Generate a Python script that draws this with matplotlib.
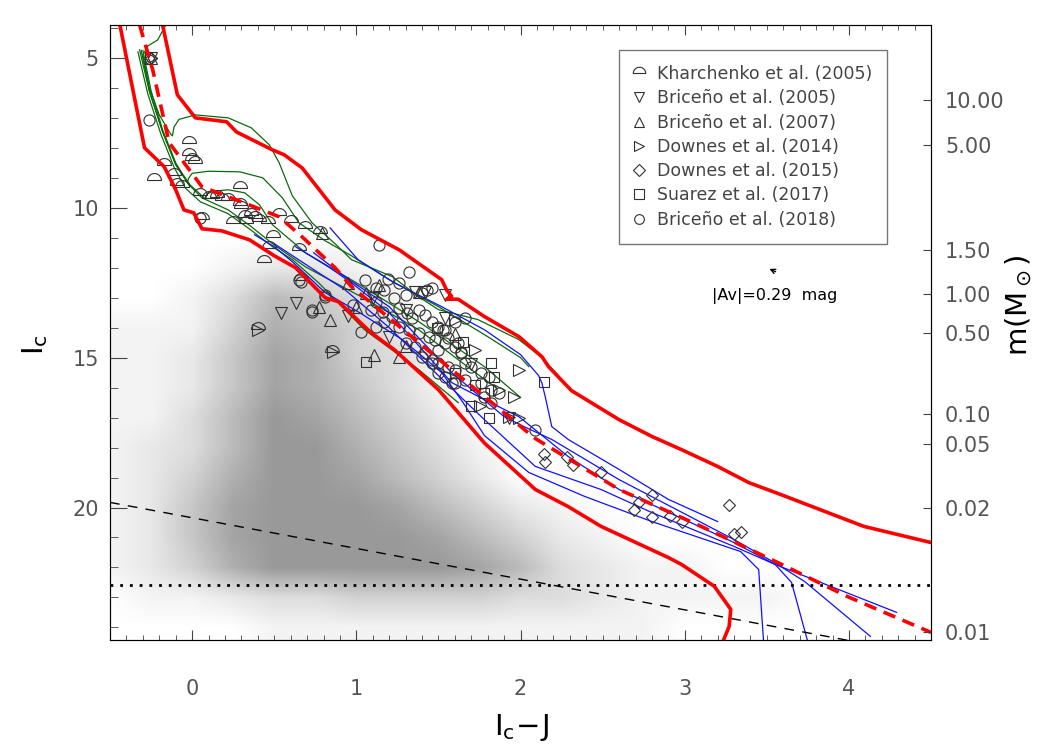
import numpy as np
import matplotlib
matplotlib.use("Agg")
import matplotlib.pyplot as plt
from matplotlib.lines import Line2D
from matplotlib.colors import LinearSegmentedColormap
from matplotlib.ticker import MultipleLocator

# ---- field stars: density (x step 0.25 from -0.5, one row per Ic mag from 4)
cloud_x0, cloud_dx = -0.5, 0.25
cloud_ic0, cloud_dic = 4, 1
cloud = [
    [0] * 21,  # 4
    [0] * 21,  # 5
    [0] * 21,  # 6
    [0] * 21,  # 7
    [0] * 21,  # 8
    [0] * 21,  # 9
    [0] * 21,  # 10
    [0] * 21,  # 11
    [0, 0, 0, 1, 2, 2, 1, 0, 0, 0, 0, 0, 0, 0, 0, 0, 0, 0, 0, 0, 0],  # 12
    [0, 0, 1, 3, 6, 5, 3, 1, 0, 0, 0, 0, 0, 0, 0, 0, 0, 0, 0, 0, 0],  # 13
    [1, 1, 1, 4, 7, 6, 4, 2, 0, 0, 0, 0, 0, 0, 0, 0, 0, 0, 0, 0, 0],  # 14
    [1, 1, 2, 5, 8, 7, 4, 3, 1, 0, 0, 0, 0, 0, 0, 0, 0, 0, 0, 0, 0],  # 15
    [1, 1, 2, 5, 8, 7, 5, 3, 1, 0, 0, 0, 0, 0, 0, 0, 0, 0, 0, 0, 0],  # 16
    [1, 1, 3, 6, 9, 8, 6, 4, 2, 0, 0, 0, 0, 0, 0, 0, 0, 0, 0, 0, 0],  # 17
    [1, 2, 3, 6, 9, 9, 7, 5, 3, 1, 0, 0, 0, 0, 0, 0, 0, 0, 0, 0, 0],  # 18
    [1, 2, 4, 7, 9, 9, 8, 6, 4, 2, 0, 0, 0, 0, 0, 0, 0, 0, 0, 0, 0],  # 19
    [1, 2, 5, 8, 9, 9, 9, 8, 6, 4, 2, 1, 0, 0, 0, 0, 0, 0, 0, 0, 0],  # 20
    [1, 2, 5, 8, 9, 9, 9, 9, 8, 6, 4, 2, 1, 0, 0, 0, 0, 0, 0, 0, 0],  # 21
    [1, 2, 4, 7, 9, 9, 9, 9, 9, 8, 6, 3, 2, 1, 1, 0, 0, 0, 0, 0, 0],  # 22
    [0, 1, 1, 2, 3, 3, 4, 4, 4, 4, 3, 3, 2, 1, 1, 1, 1, 0, 0, 0, 0],  # 23
    [0, 0, 0, 0, 1, 1, 1, 1, 1, 1, 1, 1, 1, 1, 0, 0, 0, 0, 0, 0, 0],  # 24
]

# ---- red envelope and median sequence
red_up_x = [-0.18, -0.09, 0.02, 0.21, 0.27, 0.49, 0.56, 0.67, 0.87, 1.03, 1.26, 1.52, 1.55,
            1.58, 1.55, 1.62, 1.78, 1.99, 2.13, 2.17, 2.31, 2.60, 2.80, 2.98, 3.20, 3.39,
            3.60, 3.79, 4.09, 4.50]
red_up_ic = [3.9, 6.23, 7.0, 7.13, 7.47, 8.07, 8.23, 8.67, 10.07, 10.73, 11.4, 12.4, 12.75,
             12.95, 13.05, 13.05, 13.63, 14.3, 14.97, 15.3, 16.1, 17.07, 17.63, 18.07, 18.63,
             19.17, 19.6, 20.0, 20.63, 21.17]
red_lo_x = [-0.44, -0.29, -0.17, -0.10, -0.05, 0.01, 0.06, 0.18, 0.35, 0.50, 0.63, 0.81,
            0.89, 1.09, 1.23, 1.50, 1.78, 2.09, 2.29, 2.49, 2.90, 2.98, 3.18, 3.28, 3.27, 3.23]
red_lo_ic = [3.9, 8.0, 8.63, 9.4, 10.07, 10.17, 10.7, 10.77, 11.07, 11.6, 12.0, 13.0, 13.13,
             14.17, 14.73, 16.07, 17.85, 19.4, 19.97, 20.63, 21.67, 21.9, 22.63, 23.4, 23.97, 24.5]
red_mid_x = [-0.32, -0.24, -0.14, 0.06, 0.30, 0.53, 0.67, 0.87, 0.97, 1.38, 1.78, 2.09,
             2.60, 3.10, 3.59, 3.99, 4.50]
red_mid_ic = [3.9, 5.4, 7.83, 9.3, 9.8, 10.3, 10.97, 12.0, 12.63, 14.5, 16.3, 17.7, 19.4,
              20.63, 21.9, 22.97, 24.17]

# ---- green isochrones
green_x = [
    [-0.16, -0.21, -0.27, -0.30, -0.26, -0.20, -0.13, -0.12, -0.11, -0.08, 0.02, 0.22, 0.36,
     0.47, 0.53, 0.61, 0.73, 0.89, 0.97, 1.22, 1.38, 1.50, 1.74, 1.99, 2.13, 2.23],
    [-0.30, -0.25, -0.18, -0.10, -0.03, -0.02, 0.00, 0.10, 0.29, 0.43, 0.55, 0.65, 0.81,
     0.97, 1.20, 1.50, 1.80, 2.00, 2.05],
    [-0.31, -0.26, -0.18, -0.10, -0.01, 0.08, 0.09, 0.12, 0.22, 0.32, 0.41, 0.49, 0.69,
     1.03, 1.38, 1.78, 2.00],
    [-0.32, -0.26, -0.18, -0.10, -0.02, 0.06, 0.22, 0.36, 0.49, 0.69, 1.03, 1.38, 1.70, 1.85],
    [-0.33, -0.27, -0.19, -0.11, -0.04, 0.05, 0.22, 0.36, 0.49, 0.61, 0.77, 1.05, 1.38, 1.62],
]
green_ic = [
    [3.9, 4.4, 4.6, 4.9, 6.0, 6.9, 7.55, 7.6, 7.3, 7.05, 6.9, 7.0, 7.33, 7.9, 8.5, 9.6, 10.5,
     11.3, 11.73, 12.3, 12.97, 13.4, 13.73, 14.4, 15.0, 15.6],
    [4.75, 6.1, 7.4, 8.5, 9.15, 9.0, 8.85, 8.78, 8.8, 9.0, 9.67, 10.5, 11.1, 11.6, 12.4,
     13.3, 14.3, 15.0, 15.3],
    [4.75, 6.1, 7.45, 8.55, 9.25, 9.7, 9.55, 9.45, 9.4, 9.5, 9.9, 10.57, 11.5, 12.6, 13.8,
     15.3, 16.33],
    [4.73, 6.13, 7.47, 8.57, 9.23, 9.67, 10.07, 10.63, 11.2, 11.97, 12.97, 14.07, 15.4, 16.0],
    [4.8, 6.2, 7.55, 8.65, 9.35, 9.8, 10.2, 10.75, 11.3, 11.73, 12.5, 14.07, 15.4, 16.5],
]

# ---- blue tracks
blue_x = [
    [0.84, 1.01, 1.23, 1.52, 1.78, 2.00, 2.11, 2.13, 2.15, 2.19, 2.29, 2.60, 2.90, 3.20],
    [0.74, 0.93, 1.20, 1.58, 1.90, 2.02, 2.19, 2.60, 3.30, 3.55, 3.73, 4.13],
    [0.63, 0.83, 0.97, 1.20, 1.58, 1.78, 1.99, 2.29, 2.60, 3.30, 3.55, 4.29],
    [0.50, 0.77, 0.93, 1.20, 1.50, 1.78, 2.09, 2.49, 2.80, 3.30, 3.55, 3.65, 3.75],
    [0.38, 0.50, 0.61, 0.81, 1.02, 1.28, 1.52, 1.65, 1.78, 2.05, 2.39, 2.80, 3.34, 3.45, 3.48],
]
blue_ic = [
    [10.67, 11.73, 12.5, 13.3, 14.07, 14.9, 15.6, 15.85, 16.3, 17.3, 17.73, 18.73, 19.73, 20.47],
    [11.5, 12.3, 13.3, 15.5, 16.97, 17.3, 17.73, 19.07, 21.07, 21.85, 22.47, 24.3],
    [11.3, 11.97, 12.5, 13.5, 15.83, 16.4, 16.97, 18.3, 19.4, 21.17, 21.9, 23.5],
    [11.2, 12.17, 12.73, 14.0, 15.6, 17.07, 18.63, 19.4, 20.17, 21.3, 21.9, 22.5, 24.5],
    [10.9, 11.3, 11.8, 12.83, 13.5, 14.4, 15.5, 16.5, 17.6, 18.83, 19.63, 20.47, 21.47, 22.07, 24.5],
]

# ---- limits lines
dash_x = [-0.5, 4.03]
dash_ic = [19.83, 24.47]
ic_limit = 22.6

# ---- members from the literature
kh05_x = [-0.02, -0.02, 0.00, 0.02, -0.17, -0.11, -0.23, -0.06, -0.09, 0.29, 0.12, 0.18, 0.05,
          0.22, 0.30, 0.32, 0.38, 0.53, 0.60, 0.06, 0.29, 0.36, 0.33, 0.46, 0.69, 0.78, 0.49,
          0.47, 0.44, 0.65, 0.66, 0.25, 0.41, 0.10, 0.15, 0.40, 0.85]
kh05_ic = [7.83, 8.23, 8.40, 8.50, 8.57, 8.90, 9.07, 9.30, 9.23, 9.33, 9.67, 9.73, 9.57,
           9.75, 10.0, 10.3, 10.33, 10.23, 10.47, 10.37, 9.90, 10.23, 10.5, 10.5, 10.67, 10.83,
           10.97, 11.33, 11.8, 11.4, 12.4, 10.5, 10.45, 9.68, 9.65, 14.05, 14.8]
br05_x = [-0.25, 0.63, 0.54, 1.36, 1.42, 1.30, 1.54, 1.93, 1.54, 1.20, 0.95, 1.70, 1.10]
br05_ic = [5.0, 13.17, 13.5, 12.8, 12.8, 13.4, 13.67, 17.0, 12.9, 14.3, 13.6, 15.2, 13.0]
br07_x = [-0.25, 0.77, 0.84, 1.11, 1.26, 0.95, 1.14, 1.06, 1.38, 0.79, 1.00, 1.30, 1.60]
br07_ic = [5.0, 13.3, 13.73, 14.9, 14.97, 12.5, 12.57, 12.83, 12.8, 10.83, 13.3, 14.6, 14.2]
do14_x = [-0.25, 1.87, 1.96, 1.93, 1.99, 1.72, 1.99, 1.60, 0.86, 0.40, 1.75]
do14_ic = [5.0, 16.07, 16.3, 16.97, 17.0, 14.73, 15.4, 13.73, 14.8, 14.07, 16.6]
do15_x = [-0.25, 2.14, 2.15, 2.28, 2.32, 2.49, 2.69, 2.80, 2.80, 2.91, 2.98, 3.27, 3.30, 3.34, 2.72]
do15_ic = [5.0, 18.23, 18.47, 18.33, 18.57, 18.8, 20.07, 19.57, 20.33, 20.3, 20.47, 19.9,
           20.9, 20.83, 19.83]
su17_x = [1.06, 1.65, 1.82, 2.14, 1.49, 1.84, 1.81, 1.78, 1.72, 1.60, 1.70]
su17_ic = [15.13, 14.47, 15.17, 15.8, 14.0, 15.63, 17.0, 16.17, 15.9, 15.5, 16.6]
br18_x = [1.32, 1.19, 1.05, 1.26, 1.12, 1.17, 1.43, 1.40, 1.30, 1.23, 1.12, 0.98, 0.73, 0.81,
          0.66, 1.26, 1.31, 1.38, 1.42, 1.34, 1.46, 1.50, 1.54, 1.22, 1.16, 1.09, 1.03, 1.12,
          1.17, 1.26, 1.32, 1.38, 1.44, 1.48, 1.54, 1.60, 1.64, 1.42, 1.40, 1.46, 1.50, 1.56,
          1.60, 1.54, 1.60, 1.62, 1.66, 1.50, 1.36, 1.30, 1.46, 1.66, 1.60, 1.56, 1.64, 1.70,
          1.76, 1.81, 1.66, 1.58, 1.50, 1.46, 1.76, 1.82, 1.78, 1.82, 1.87, 2.09, 0.65, 0.81,
          0.73, 1.53, -0.26, 0.05, 1.14]
br18_ic = [12.13, 12.37, 12.4, 12.5, 12.67, 12.73, 12.73, 12.83, 12.9, 13.0, 13.13, 13.23,
           13.47, 12.97, 12.47, 13.33, 13.5, 13.4, 13.57, 13.67, 13.8, 13.97, 14.07, 13.63,
           13.47, 13.4, 14.13, 13.97, 13.8, 13.97, 14.07, 14.17, 14.3, 14.4, 14.5, 14.63, 14.8,
           14.83, 14.97, 15.07, 15.17, 15.3, 15.4, 15.63, 15.83, 14.5, 15.17, 14.73, 14.63,
           14.5, 12.67, 13.67, 13.8, 14.33, 14.83, 15.3, 15.5, 15.63, 15.73, 15.83, 15.5,
           15.17, 15.83, 16.07, 16.3, 16.5, 16.17, 17.4, 12.4, 12.9, 13.4, 14.07, 7.07, 10.33,
           11.23]

survey_labels = ["Kharchenko et al. (2005)", "Briceño et al. (2005)", "Briceño et al. (2007)",
                 "Downes et al. (2014)", "Downes et al. (2015)", "Suarez et al. (2017)",
                 "Briceño et al. (2018)"]

# ---- right-hand mass scale
mass_ic = [6.4, 7.9, 11.4, 12.87, 14.17, 16.87, 17.87, 20.03, 24.17]
mass_labels = ["10.00", "5.00", "1.50", "1.00", "0.50", "0.10", "0.05", "0.02", "0.01"]

# half-circle marker (flat side down)
t = np.linspace(0, np.pi, 25)
dome = list(zip(np.cos(t), np.sin(t))) + [(1.0, 0.0)]

fig = plt.figure(figsize=(10.42, 7.5), dpi=100)
ax = fig.add_axes([0.1056, 0.1467, 0.788, 0.82])

# grey cloud
cloud = np.array(cloud, dtype=float)
ny, nx = cloud.shape
cmap = LinearSegmentedColormap.from_list("cloud", ["#ffffff", "#999999"])
ax.imshow(cloud, cmap=cmap, vmin=0, vmax=9, interpolation="bilinear", aspect="auto",
          origin="upper", zorder=0,
          extent=(cloud_x0 - cloud_dx / 2, cloud_x0 + (nx - 0.5) * cloud_dx,
                  cloud_ic0 + (ny - 0.5) * cloud_dic, cloud_ic0 - cloud_dic / 2))

for gx, gy in zip(green_x, green_ic):
    ax.plot(gx, gy, color="#0b6b0b", lw=0.9, zorder=2)
for bx, by in zip(blue_x, blue_ic):
    ax.plot(bx, by, color="#1010ff", lw=0.9, zorder=2)

ax.plot(dash_x, dash_ic, color="black", lw=1.0, ls=(0, (7, 6)), zorder=2)
ax.axhline(ic_limit, color="black", lw=2.0, ls=(0, (1, 2.5)), zorder=2)

mk = dict(ls="none", mfc="none", mec="#303030", mew=0.8, zorder=3)
ax.plot(kh05_x, kh05_ic, marker=dome, ms=10, **mk)
ax.plot(br05_x, br05_ic, marker="v", ms=8, **mk)
ax.plot(br07_x, br07_ic, marker="^", ms=8, **mk)
ax.plot(do14_x, do14_ic, marker=">", ms=8, **mk)
ax.plot(do15_x, do15_ic, marker="D", ms=6.5, **mk)
ax.plot(su17_x, su17_ic, marker="s", ms=7, **mk)
ax.plot(br18_x, br18_ic, marker="o", ms=8, **mk)

ax.plot(red_up_x, red_up_ic, color="#ff0000", lw=2.6, zorder=4, solid_joinstyle="round")
ax.plot(red_lo_x, red_lo_ic, color="#ff0000", lw=2.6, zorder=4, solid_joinstyle="round")
ax.plot(red_mid_x, red_mid_ic, color="#ff0000", lw=2.6, ls=(0, (3.5, 2.2)), zorder=4)

# extinction vector
ax.annotate("", xy=(3.50, 12.0), xytext=(3.568, 12.17),
            arrowprops=dict(arrowstyle="->", color="black", lw=1.0, mutation_scale=8))
ax.text(3.55, 12.95, "|Av|=0.29  mag", fontsize=11.5, ha="center", va="center", color="black")

ax.set_xlim(-0.5, 4.5)
ax.set_ylim(24.42, 3.9)
ax.set_xticks([0, 1, 2, 3, 4])
ax.set_yticks([5, 10, 15, 20])
ax.xaxis.set_minor_locator(MultipleLocator(0.1))
ax.yaxis.set_minor_locator(MultipleLocator(1))
ax.tick_params(which="both", direction="in", top=True, right=False, color="#444444",
               labelcolor="#555555", labelsize=15)
ax.tick_params(axis="x", which="major", length=7, pad=28)
ax.tick_params(axis="x", which="minor", length=3.5)
ax.tick_params(axis="y", which="major", length=12, pad=8)
ax.tick_params(axis="y", which="minor", length=6)
for s in ax.spines.values():
    s.set_color("#444444")

ax2 = ax.twinx()
ax2.set_ylim(ax.get_ylim())
ax2.set_yticks(mass_ic, labels=mass_labels)
ax2.yaxis.set_minor_locator(plt.NullLocator())
ax2.tick_params(axis="y", direction="in", length=6, color="#444444", labelcolor="#555555",
                labelsize=15, pad=10)

handles = [Line2D([], [], marker=m, ms=s, ls="none", mfc="none", mec="#303030", mew=0.8)
           for m, s in [(dome, 9), ("v", 7), ("^", 7), (">", 7), ("D", 6), ("s", 6.5), ("o", 7)]]
leg = ax.legend(handles, survey_labels, loc="upper right", bbox_to_anchor=(0.946, 0.959),
                fontsize=12.5, frameon=True, fancybox=False, edgecolor="#777777", framealpha=1,
                labelspacing=0.36, borderpad=0.86, handlelength=0.6, handletextpad=0.72,
                borderaxespad=0, labelcolor="#444444")
leg.get_frame().set_linewidth(1.0)
leg.set_zorder(10)

fig.text(0.034, 0.54, r"$\mathregular{I_c}$", rotation=90, fontsize=21, ha="center", va="center")
fig.text(0.50, 0.03, r"$\mathregular{I_c\!-\!J}$", fontsize=21, ha="center", va="center")
fig.text(0.978, 0.593, r"m(M$_\odot$)", rotation=90, fontsize=21, ha="center", va="center")

fig.savefig("out.png", dpi=100)
